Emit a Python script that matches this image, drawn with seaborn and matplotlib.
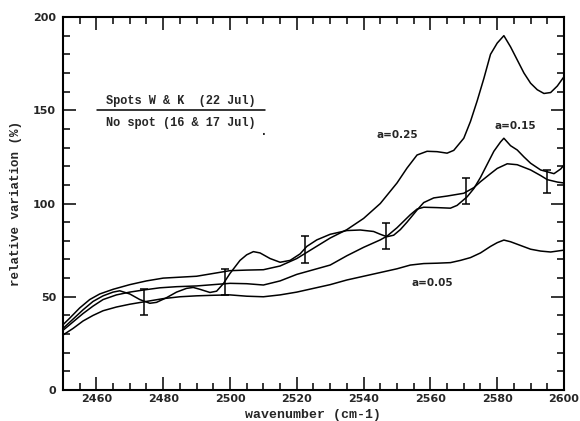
import numpy as np
import pandas as pd
import seaborn as sns
import matplotlib.pyplot as plt
from matplotlib.ticker import MultipleLocator

# a=0.25 model curve (top)
wn_25 = [2450, 2452, 2455, 2458, 2461, 2465, 2470, 2475, 2480, 2485, 2490, 2495,
         2500, 2505, 2510, 2515, 2520, 2525, 2530, 2535, 2540, 2545, 2550, 2553,
         2556, 2559, 2562, 2565, 2567, 2570, 2572, 2574, 2576, 2578, 2580, 2582,
         2584, 2586, 2588, 2590, 2592, 2594, 2596, 2598, 2600]
rv_25 = [35, 38.5, 44, 48.5, 51.5, 54, 56.5, 58.5, 60, 60.5, 61, 62.5,
         64, 64.3, 64.5, 66.5, 70.5, 76, 81.5, 86, 92, 100, 111, 119,
         126, 128, 127.8, 127, 128.5, 135, 144, 155, 167, 180, 186, 190,
         184, 177, 170, 164.5, 161, 159, 159.5, 163, 168]

# a=0.15 model curve (middle, peak at 2582)
wn_15 = [2450, 2453, 2456, 2459, 2462, 2466, 2470, 2474, 2479, 2484, 2490, 2495,
         2500, 2505, 2510, 2515, 2520, 2525, 2530, 2535, 2540, 2545, 2547, 2550,
         2552, 2554, 2556, 2558, 2562, 2566, 2568, 2571, 2573, 2575, 2577, 2579,
         2581, 2582, 2584, 2586, 2588, 2590, 2593, 2595, 2597, 2599, 2600]
rv_15 = [32, 36.5, 41, 45, 48.5, 51, 52.5, 53.6, 54.8, 55.4, 55.8, 56.5,
         57.2, 57, 56.3, 58.5, 62, 64.5, 67, 72, 76.5, 80.5, 82.5, 87,
         90.5, 94, 97, 98, 97.8, 97.5, 99, 103.6, 108, 114, 121, 128,
         133, 135, 131, 128.7, 125, 121.6, 118, 117, 116, 118.5, 120.6]

# observed ratio (wiggly curve carrying the error bars)
wn_obs = [2450, 2453, 2456, 2459, 2462, 2465, 2467, 2470, 2473, 2476, 2478, 2481,
          2484, 2487, 2489, 2491, 2494, 2496, 2498, 2500, 2503, 2505, 2507, 2509,
          2512, 2515, 2518, 2521, 2523, 2526, 2530, 2535, 2539, 2543, 2545, 2547,
          2549, 2551, 2553, 2556, 2558, 2561, 2565, 2570, 2573, 2575, 2578, 2580,
          2583, 2586, 2590, 2593, 2595, 2598, 2600]
rv_obs = [33, 38, 43, 47.5, 50.5, 52.5, 53.2, 51.5, 48.5, 46.5, 47, 49.5,
          52.5, 54.5, 55, 54, 52.3, 53, 57, 62.5, 69.5, 72.5, 74.2, 73.5,
          70.5, 68.5, 69.5, 73, 77, 80.5, 83.5, 85.5, 85.8, 85, 83.5, 82.2,
          83, 86, 90, 96.5, 100.5, 103, 104, 105.5, 108.5, 111.7, 116, 118.8,
          121.3, 120.8, 118, 115, 112.8, 111.5, 111]

# a=0.05 model curve (bottom)
wn_05 = [2450, 2453, 2456, 2459, 2462, 2466, 2470, 2475, 2480, 2485, 2490, 2495,
         2500, 2505, 2510, 2515, 2520, 2525, 2530, 2535, 2540, 2545, 2550, 2554,
         2558, 2562, 2566, 2569, 2572, 2575, 2578, 2580, 2582, 2584, 2587, 2590,
         2593, 2596, 2598, 2600]
rv_05 = [29.5, 33, 37, 40, 42.5, 44.5, 46, 47.5, 49, 50, 50.5, 50.8,
         51, 50.3, 50, 51, 52.5, 54.5, 56.5, 59, 61, 63, 65, 67,
         67.8, 68, 68.3, 69.5, 71, 73.5, 77, 79, 80.4, 79.5, 77.5, 75.5,
         74.5, 74, 74.5, 75]

# error bars on the observed curve
err_wn = [2474.3, 2498.5, 2522.5, 2546.7, 2570.8, 2595]
err_lo = [40, 51, 68.3, 75.4, 99.7, 105.6]
err_hi = [54, 64.7, 82.6, 89.4, 113.5, 118]

sns.set_style("ticks")
plt.rcParams['font.family'] = ['DejaVu Sans']

fig = plt.figure(figsize=(5.8, 4.21), dpi=100)
ax = fig.add_axes([0.1086, 0.0736, 0.8638, 0.886])

for wn, rv in [(wn_25, rv_25), (wn_15, rv_15), (wn_obs, rv_obs), (wn_05, rv_05)]:
    sns.lineplot(x=wn, y=rv, color='black', linewidth=1.1, sort=False, ax=ax)

mid = [(lo + hi) / 2 for lo, hi in zip(err_lo, err_hi)]
yerr = [[m - lo for m, lo in zip(mid, err_lo)], [hi - m for m, hi in zip(mid, err_hi)]]
ax.errorbar(err_wn, mid, yerr=yerr, fmt='none', ecolor='black',
            elinewidth=1.1, capsize=3, capthick=1.1)

ax.set_xlim(2450, 2600)
ax.set_ylim(0, 200)
ax.xaxis.set_major_locator(MultipleLocator(20))
ax.xaxis.set_minor_locator(MultipleLocator(5))
ax.yaxis.set_major_locator(MultipleLocator(50))
ax.yaxis.set_minor_locator(MultipleLocator(10))
ax.tick_params(which='both', direction='in', top=True, right=True,
               width=1.1, color='black')
ax.tick_params(which='major', length=9.5, pad=5)
ax.tick_params(axis='x', which='major', pad=3)
ax.tick_params(which='minor', length=5)
for lab in ax.get_xticklabels() + ax.get_yticklabels():
    lab.set_fontweight('bold')
    lab.set_fontsize(8)
for s in ax.spines.values():
    s.set_linewidth(1.5)
    s.set_color('black')

mono = ['Liberation Mono', 'DejaVu Sans Mono']
ax.set_xlabel("wavenumber (cm-1)", family=mono, fontweight='bold', fontsize=9.5)
ax.set_ylabel("relative variation (%)", family=mono, fontweight='bold', fontsize=9)
ax.xaxis.set_label_coords(0.5, -0.050)
ax.yaxis.set_label_coords(-0.082, 0.5)

# ratio annotation
ax.plot([2460.2, 2510.5], [150, 150], color='black', linewidth=1.1)
ax.text(2485.3, 152, "Spots W & K  (22 Jul)", family=mono, fontweight='bold',
        fontsize=8.6, ha='center', va='bottom')
ax.text(2485.3, 146.5, "No spot (16 & 17 Jul)", family=mono, fontweight='bold',
        fontsize=8.6, ha='center', va='top')
ax.text(2510, 138.3, ".", fontsize=7, fontweight='bold', ha='center', va='center')

ax.text(2550, 136.7, "a=0.25", fontsize=7.5, fontweight='bold', ha='center', va='center')
ax.text(2585.3, 141.6, "a=0.15", fontsize=7.5, fontweight='bold', ha='center', va='center')
ax.text(2560.5, 57.4, "a=0.05", fontsize=7.5, fontweight='bold', ha='center', va='center')

fig.savefig("out.png", dpi=100)
